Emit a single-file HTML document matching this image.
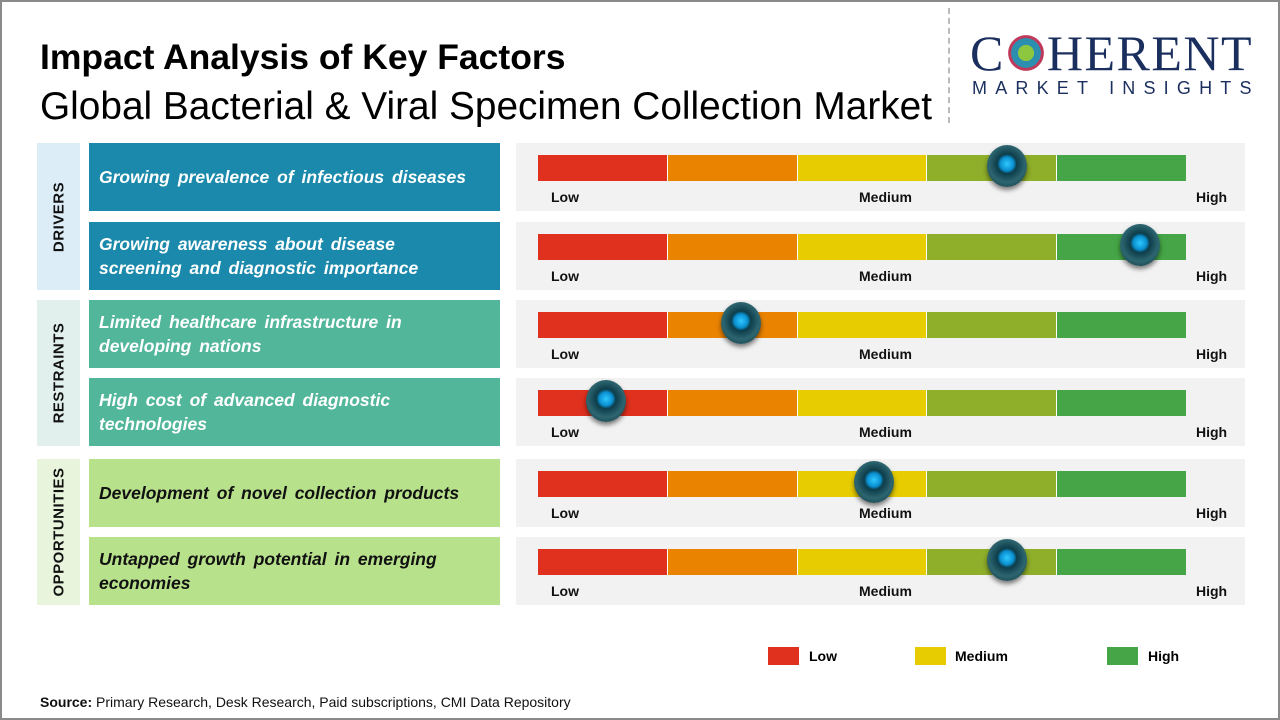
<!DOCTYPE html>
<html><head><meta charset="utf-8"><style>
*{margin:0;padding:0;box-sizing:border-box}
body{width:1280px;height:720px;position:relative;background:#fff;font-family:"Liberation Sans",sans-serif;overflow:hidden}
.frame{position:absolute;left:0;top:0;width:1280px;height:720px;border:2px solid #8a8a8a}
.a{position:absolute}
.t1{left:40px;top:37px;font-size:35.5px;font-weight:bold;color:#000;letter-spacing:0px}
.t2{left:40px;top:85px;font-size:38.8px;color:#000;letter-spacing:0px}
.sec{position:absolute;left:37px;width:43px}
.sec span{position:absolute;left:50%;top:50%;transform:translate(-50%,-50%) rotate(-90deg);font-weight:bold;font-size:15px;white-space:nowrap;color:#111;letter-spacing:0.5px}
.box{position:absolute;left:89px;width:411px;height:68px;color:#fff;font-style:italic;font-weight:bold;font-size:17.5px;line-height:24px;padding-left:10px;display:flex;align-items:center;word-spacing:3px}
.pan{position:absolute;left:516px;width:729px;height:68px;background:#f2f2f2}
.bar{position:absolute;left:22px;top:12px;height:26px;width:648px;display:flex}
.bar div{flex:1;border-right:1px solid #fff}
.bar div:last-child{border:none}
.lb{position:absolute;top:46px;font-size:14px;font-weight:bold;color:#111}
.mk{position:absolute;width:40px;height:42px;border-radius:50%;background:radial-gradient(circle at 50% 45%,#2fc8ff 0,#0a90d0 22%,#0d3d4a 32%,#2d6670 60%,#0e2e36 100%);box-shadow:0 3px 5px rgba(0,0,0,.5)}
.lg{position:absolute;top:647px;width:31px;height:18px}
.lgt{position:absolute;top:648px;font-size:14px;font-weight:bold}
</style></head><body>
<div class="frame"></div>
<div class="a t1">Impact Analysis of Key Factors</div>
<div class="a t2">Global Bacterial &amp; Viral Specimen Collection Market</div>
<div class="a" style="left:948px;top:8px;height:115px;border-left:2px dashed #bbb"></div>
<div class="a" style="left:970px;top:28px;font-family:'Liberation Serif',serif;font-size:50px;color:#1b2f5e;letter-spacing:1.5px;line-height:50px">C<span style="display:inline-block;width:42px;height:38px;vertical-align:-2px;background:radial-gradient(circle,#8dc63f 0 28%,#2d8fb0 29% 52%,#c0395a 53% 62%,transparent 64%)"></span>HERENT</div>
<div class="a" style="left:972px;top:78px;font-size:18px;color:#1b2f5e;letter-spacing:8.2px">MARKET INSIGHTS</div>

<div class="sec" style="top:143px;height:147px;background:#dcedf8"><span>DRIVERS</span></div>
<div class="sec" style="top:300px;height:146px;background:#e1f0ec"><span>RESTRAINTS</span></div>
<div class="sec" style="top:459px;height:146px;background:#e8f5dc"><span>OPPORTUNITIES</span></div>

<div class="box" style="top:143px;background:#1a89ab">Growing prevalence of infectious diseases</div>
<div class="box" style="top:222px;background:#1a89ab">Growing awareness about disease<br>screening and diagnostic importance</div>
<div class="box" style="top:300px;background:#52b69a">Limited healthcare infrastructure in<br>developing nations</div>
<div class="box" style="top:378px;background:#52b69a">High cost of advanced diagnostic<br>technologies</div>
<div class="box" style="top:459px;background:#b8e18c;color:#111">Development of novel collection products</div>
<div class="box" style="top:537px;background:#b8e18c;color:#111">Untapped growth potential in emerging<br>economies</div>

<div id="pans"></div>
<script>
var tops=[143,222,300,378,459,537],mk=[1007,1140,741,606,874,1007];
var h='';
for(var i=0;i<6;i++){
h+='<div class="pan" style="top:'+tops[i]+'px"><div class="bar"><div style="background:#e0301e"></div><div style="background:#ea8300"></div><div style="background:#e6cc00"></div><div style="background:#8fae2a"></div><div style="background:#46a546"></div></div>'+
'<div class="lb" style="left:35px">Low</div><div class="lb" style="left:343px">Medium</div><div class="lb" style="left:680px">High</div>'+
'<div class="mk" style="left:'+(mk[i]-516-20)+'px;top:2px"></div></div>';
}
document.getElementById('pans').innerHTML=h;
</script>

<div class="lg" style="left:768px;background:#e0301e"></div><div class="lgt" style="left:809px">Low</div>
<div class="lg" style="left:915px;background:#e6cc00"></div><div class="lgt" style="left:955px">Medium</div>
<div class="lg" style="left:1107px;background:#46a546"></div><div class="lgt" style="left:1148px">High</div>

<div class="a" style="left:40px;top:694px;font-size:14px;color:#111"><b>Source:</b> Primary Research, Desk Research, Paid subscriptions, CMI Data Repository</div>
</body></html>
